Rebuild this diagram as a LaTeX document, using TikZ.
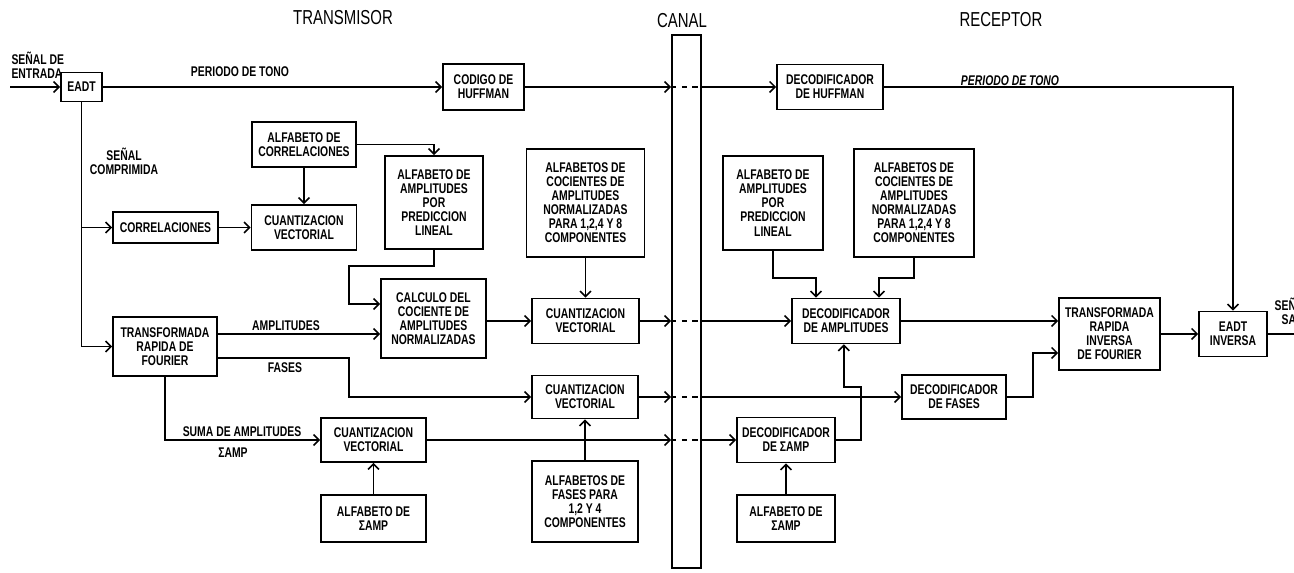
\documentclass[tikz,border=0pt]{standalone}
\usepackage{fontspec}
\setmainfont{Liberation Sans}[FakeStretch=0.74]
\usetikzlibrary{arrows.meta}

\begin{document}
\begin{tikzpicture}[x=0.02cm, y=-0.02cm, line width=0.9pt, >={Straight Barb[length=1.1mm,width=2.2mm]},
	every node/.style={font=\fontsize{8}{8}\selectfont\bfseries},
	blk/.style 2 args={draw, align=center, inner sep=0pt, minimum width=#1, minimum height=#2},
	lbl/.style={inner sep=1pt, align=center},
	titulo/.style={font=\fontsize{11.5}{12}\selectfont}]
	\clip (0,0) rectangle (1294,573);
	\node[titulo] (ttx) at (343,18) {TRANSMISOR};
	\node[titulo] (tcanal) at (682,21) {CANAL};
	\node[titulo] (trx) at (1001,20) {RECEPTOR};
	\node[blk={0.58cm}{10.66cm}] (canal) at (686.5,301.5) {};
	% transmisor
	\node[blk={0.82cm}{0.58cm}] (eadt) at (81.5,87) {EADT};
	\node[blk={1.62cm}{0.92cm}] (huff) at (483.5,87) {CODIGO DE\\HUFFMAN};
	\node[blk={2.08cm}{0.90cm}] (acorr) at (304,144.5) {ALFABETO DE\\CORRELACIONES};
	\node[blk={2.10cm}{0.62cm}] (corr) at (165.5,227.5) {CORRELACIONES};
	\node[blk={2.10cm}{0.90cm}] (cvcorr) at (304,227.5) {CUANTIZACION\\VECTORIAL};
	\node[blk={1.96cm}{1.86cm}] (aamp) at (434,202.5) {ALFABETO DE\\AMPLITUDES\\POR\\PREDICCION\\LINEAL};
	\node[blk={2.10cm}{1.58cm}] (calc) at (433.5,318.5) {CALCULO DEL\\COCIENTE DE\\AMPLITUDES\\NORMALIZADAS};
	\node[blk={2.08cm}{1.18cm}] (fft) at (165,346.5) {TRANSFORMADA\\RAPIDA DE\\FOURIER};
	\node[blk={2.36cm}{2.16cm}] (acoc) at (585.5,203) {ALFABETOS DE\\COCIENTES DE\\AMPLITUDES\\NORMALIZADAS\\PARA 1,2,4 Y 8\\COMPONENTES};
	\node[blk={2.14cm}{0.90cm}] (cvamp) at (585.5,321) {CUANTIZACION\\VECTORIAL};
	\node[blk={2.12cm}{0.86cm}] (cvfas) at (585,397) {CUANTIZACION\\VECTORIAL};
	\node[blk={2.10cm}{0.88cm}] (cvsum) at (373.5,440) {CUANTIZACION\\VECTORIAL};
	\node[blk={2.10cm}{0.94cm}] (asum) at (373.5,518.5) {ALFABETO DE\\ΣAMP};
	\node[blk={2.12cm}{1.62cm}] (afas) at (585,501.5) {ALFABETOS DE\\FASES PARA\\1,2 Y 4\\COMPONENTES};
	% receptor
	\node[blk={2.12cm}{0.90cm}] (dhuff) at (830,87) {DECODIFICADOR\\DE HUFFMAN};
	\node[blk={2.00cm}{1.88cm}] (raamp) at (773,203) {ALFABETO DE\\AMPLITUDES\\POR\\PREDICCION\\LINEAL};
	\node[blk={2.40cm}{2.16cm}] (racoc) at (914,203) {ALFABETOS DE\\COCIENTES DE\\AMPLITUDES\\NORMALIZADAS\\PARA 1,2,4 Y 8\\COMPONENTES};
	\node[blk={2.16cm}{0.90cm}] (damp) at (846,321) {DECODIFICADOR\\DE AMPLITUDES};
	\node[blk={1.96cm}{0.90cm}] (dsum) at (786,440) {DECODIFICADOR\\DE ΣAMP};
	\node[blk={1.96cm}{0.94cm}] (rasum) at (786,518.5) {ALFABETO DE\\ΣAMP};
	\node[blk={2.08cm}{0.88cm}] (dfas) at (954,397) {DECODIFICADOR\\DE FASES};
	\node[blk={2.02cm}{1.44cm}] (ifft) at (1109.5,334) {TRANSFORMADA\\RAPIDA\\INVERSA\\DE FOURIER};
	\node[blk={1.36cm}{0.90cm}] (eadti) at (1233,334) {EADT\\INVERSA};
	% etiquetas
	\node[lbl, align=left, anchor=west] (entrada) at (9,65) {SEÑAL DE\\ENTRADA};
	\node[lbl] (salida) at (1301,311) {SEÑAL DE\\SALIDA};
	\node[lbl] (ptono) at (240,72) {PERIODO DE TONO};
	\node[lbl, anchor=south, inner sep=0.5pt, font=\fontsize{8}{8}\selectfont\bfseries\itshape] (ptono2) at (1010,87) {PERIODO DE TONO};
	\node[lbl] (scomp) at (124,161) {SEÑAL\\COMPRIMIDA};
	\node[lbl] (lamp) at (286,326) {AMPLITUDES};
	\node[lbl] (lfas) at (285,368) {FASES};
	\node[lbl] (lsuma) at (242,432) {SUMA DE AMPLITUDES};
	\node[lbl] (lsamp) at (233,453) {ΣAMP};
	\coordinate (in) at (10,87);
	\coordinate (out) at (1294,334);
	\coordinate (j1) at (349,266);
	% conexiones
	\draw[->] (in) -- (eadt);
	\draw[->] (eadt) -- (huff);
	\draw[->] (eadt.south) |- (fft);
	\draw[->] (eadt.south |- corr) -- (corr);
	\draw[->] (corr) -- (cvcorr);
	\draw[->] (acorr) -- (cvcorr);
	\draw[->] (acorr) -| (aamp);
	\draw[->] (aamp.south) |- (j1) |- ([yshift=0.29cm]calc.west);
	\draw[->] ([yshift=0.25cm]fft.east) -- ([yshift=0.25cm]fft.east -| calc.west);
	\draw[->] ([yshift=-0.23cm]fft.east) -| (j1 |- cvfas) -- (cvfas);
	\draw[->] (fft.south) |- (cvsum);
	\draw[->] (asum) -- (cvsum);
	\draw[->] (calc.east |- cvamp) -- (cvamp);
	\draw[->] (acoc) -- (cvamp);
	\draw[->] (afas) -- (cvfas);
	\foreach \a/\b in {huff/dhuff, cvamp/damp, cvfas/dfas, cvsum/dsum} {
		\draw[->] (\a) -- (\a -| canal.west);
		\draw[dashed] (\a -| canal.west) -- (\a -| canal.east);
		\draw[->] (\a -| canal.east) -- (\b.west |- \a);
	}
	\draw[->] (dhuff) -| (eadti);
	\draw[->] (raamp.south) -- ++(0,27) -| ([xshift=-0.6cm]damp.north);
	\draw[->] (racoc.south) -- ++(0,20) -| ([xshift=0.66cm]damp.north);
	\draw[->] (rasum) -- (dsum);
	\draw[->] (dsum.east) -- ++(25,0) -- ++(0,-53) -- ++(-17,0) coordinate (j5) -- (j5 |- damp.south);
	\draw[->] (damp) -- (damp -| ifft.west);
	\draw[->] (dfas.east) -- ++(26,0) |- ([yshift=-0.38cm]ifft.west);
	\draw[->] (ifft) -- (eadti);
	\draw (eadti) -- (out);
\end{tikzpicture}
\end{document}
